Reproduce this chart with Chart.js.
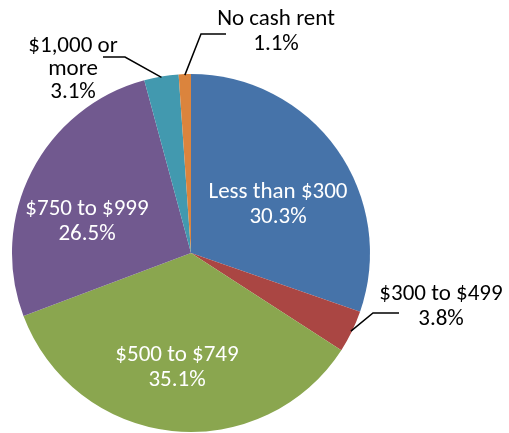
<!DOCTYPE html>
<html>
<head>
<meta charset="utf-8">
<script src="https://cdn.jsdelivr.net/npm/chart.js@4/dist/chart.umd.min.js"></script>
<style>
	html, body { margin: 0; padding: 0; background: #fff; }
	#wrap { width: 509px; height: 433px; }
</style>
</head>
<body>
<div id="wrap"><canvas id="rentPie" width="509" height="433"></canvas></div>
<script>
// Data
var categories = ['Less than $300', '$300 to $499', '$500 to $749', '$750 to $999', '$1,000 or more', 'No cash rent'];
var percents = [30.3, 3.8, 35.1, 26.5, 3.1, 1.1];
var sliceColors = ['#4673A9', '#AA4643', '#8AA64F', '#71598F', '#4299AF', '#DB843D'];

// Label rows per slice
var labelLines = [
	['Less than $300', '30.3%'],
	['$300 to $499', '3.8%'],
	['$500 to $749', '35.1%'],
	['$750 to $999', '26.5%'],
	['$1,000 or', 'more', '3.1%'],
	['No cash rent', '1.1%']
];

// Label layout (pixel positions, kept apart from the data); y = first baseline
var labelLayout = [
	{ x: 278, y: 198, color: '#fff' },
	{ x: 441, y: 300, color: '#000', leader: [[373, 313], [399, 313]] },
	{ x: 177, y: 361, color: '#fff' },
	{ x: 87, y: 215, color: '#fff' },
	{ x: 73, y: 52, color: '#000', step: 23, leader: [[125, 57], [103, 57]] },
	{ x: 276, y: 25, color: '#000', leader: [[201, 34], [226, 34]] }
];
var LINE_HEIGHT = 25;

var pieLabels = {
	id: 'pieLabels',
	afterDatasetsDraw: function (chart) {
		var ctx = chart.ctx;
		var meta = chart.getDatasetMeta(0);
		ctx.save();
		ctx.font = '23px Carlito, Lato, "Open Sans", sans-serif';
		ctx.textAlign = 'center';
		ctx.textBaseline = 'alphabetic';
		meta.data.forEach(function (arc, i) {
			var lay = labelLayout[i];
			if (lay.leader) {
				// start on the rim at slice mid angle
				var mid = (arc.startAngle + arc.endAngle) / 2;
				var sx = arc.x + Math.cos(mid) * (arc.outerRadius - 1);
				var sy = arc.y + Math.sin(mid) * (arc.outerRadius - 1);
				ctx.beginPath();
				ctx.strokeStyle = '#000';
				ctx.lineWidth = 1.5;
				ctx.moveTo(sx, sy);
				lay.leader.forEach(function (p) { ctx.lineTo(p[0], p[1]); });
				ctx.stroke();
			}
			ctx.fillStyle = lay.color;
			var step = lay.step || LINE_HEIGHT;
			labelLines[i].forEach(function (txt, j) {
				ctx.fillText(txt, lay.x, lay.y + j * step);
			});
		});
		ctx.restore();
	}
};

new Chart(document.getElementById('rentPie'), {
	type: 'pie',
	data: {
		labels: categories,
		datasets: [{
			data: percents,
			backgroundColor: sliceColors,
			borderWidth: 0
		}]
	},
	options: {
		responsive: false,
		animation: false,
		layout: { padding: { left: 12, right: 139, top: 74, bottom: 1 } },
		plugins: {
			legend: { display: false },
			tooltip: { enabled: false }
		}
	},
	plugins: [pieLabels]
});
</script>
</body>
</html>
